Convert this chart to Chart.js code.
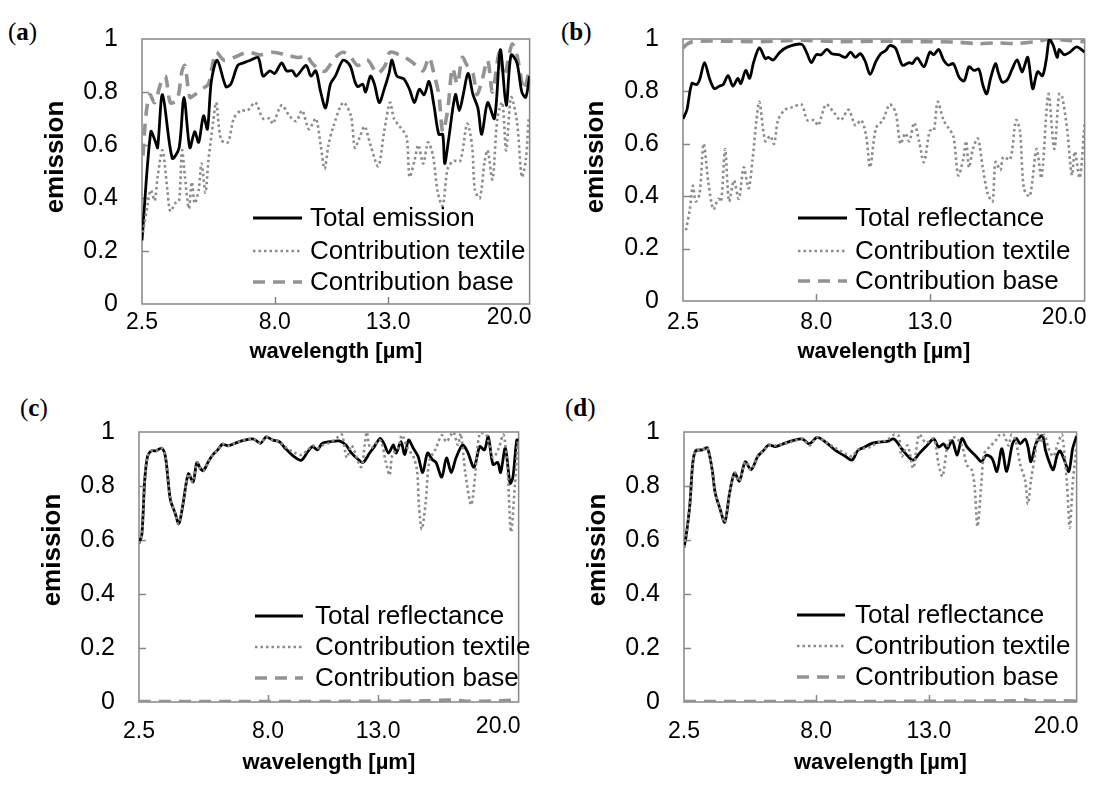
<!DOCTYPE html>
<html>
<head>
<meta charset="utf-8">
<title>emission / reflectance spectra</title>
<script src="https://cdn.jsdelivr.net/npm/chart.js@4.4.1/dist/chart.umd.min.js"></script>
<style>
  html, body { margin: 0; padding: 0; background: #fff; }
  body { width: 1115px; height: 787px; position: relative; overflow: hidden; }
  .panel { position: absolute; }
  .panel canvas { display: block; }
  .tag { position: absolute; font-family: "Liberation Serif", "DejaVu Serif", serif; font-size: 25px; line-height: 1; color: #000; }
</style>
</head>
<body>
<div class="tag" style="left:8px;top:19px">(<b>a</b>)</div>
<div class="tag" style="left:561px;top:19px">(<b>b</b>)</div>
<div class="tag" style="left:20px;top:395px">(<b>c</b>)</div>
<div class="tag" style="left:565px;top:395px">(<b>d</b>)</div>
<div class="panel" style="left:0px;top:0px"><canvas id="chartA" width="557" height="393"></canvas></div>
<div class="panel" style="left:557px;top:0px"><canvas id="chartB" width="558" height="393"></canvas></div>
<div class="panel" style="left:0px;top:393px"><canvas id="chartC" width="557" height="394"></canvas></div>
<div class="panel" style="left:557px;top:393px"><canvas id="chartD" width="558" height="394"></canvas></div>
<script>
const FONT = '"Liberation Sans", Arial, sans-serif';

// axis labels
const yTickLabels = ['0', '0.2', '0.4', '0.6', '0.8', '1'];
const xTickLabels = ['2.5', '8.0', '13.0', '20.0'];
const xTickPos = [0, 136, 252]; // sample index of 2.5, 8.0, 13.0 (20.0 = last sample of each panel)
const labelsA = ['Total emission', 'Contribution textile', 'Contribution base'];
const labelsR = ['Total reflectance', 'Contribution textile', 'Contribution base'];

// (a) emission
const xTotA = [0,9,14,16,21,31,38,43,49,54,58,63,67,71,77,86,91,98,104,111,119,124,131,136,143,148,154,158,168,173,178,183,188,193,198,206,213,218,221,226,229,234,238,243,248,253,256,261,268,274,279,284,289,294,299,304,308,310,314,321,325,329,334,339,344,348,354,361,367,373,378,384,389,393,397];
const totA = [0.24,0.65,0.61,0.59,0.79,0.55,0.59,0.78,0.59,0.65,0.61,0.71,0.66,0.84,0.92,0.82,0.83,0.90,0.91,0.92,0.93,0.86,0.88,0.87,0.91,0.88,0.88,0.86,0.90,0.86,0.88,0.80,0.74,0.83,0.86,0.92,0.90,0.84,0.82,0.83,0.80,0.86,0.83,0.76,0.81,0.87,0.92,0.86,0.85,0.81,0.76,0.81,0.79,0.84,0.75,0.64,0.64,0.53,0.62,0.79,0.73,0.79,0.87,0.79,0.74,0.64,0.76,0.70,0.96,0.75,0.94,0.91,0.80,0.78,0.86];
const xTexA = [1,6,9,13,16,21,26,29,34,38,41,44,48,51,54,58,61,65,68,73,76,81,88,94,101,108,116,124,131,134,143,151,158,164,171,178,183,187,191,196,206,214,218,223,228,234,242,248,254,258,264,271,274,279,283,288,293,298,303,308,313,319,326,333,338,341,346,351,354,359,364,369,373,378,384,389,393,396];
const texA = [0.27,0.38,0.43,0.39,0.48,0.58,0.43,0.35,0.38,0.39,0.58,0.48,0.36,0.46,0.38,0.43,0.53,0.42,0.54,0.69,0.76,0.62,0.61,0.70,0.73,0.73,0.76,0.70,0.70,0.68,0.75,0.71,0.69,0.73,0.66,0.70,0.60,0.51,0.60,0.67,0.76,0.71,0.59,0.63,0.67,0.60,0.52,0.65,0.76,0.70,0.67,0.63,0.48,0.54,0.60,0.53,0.61,0.56,0.42,0.37,0.51,0.54,0.54,0.68,0.60,0.43,0.40,0.54,0.58,0.47,0.70,0.76,0.58,0.78,0.69,0.48,0.54,0.70];
const xBaseA = [1,4,8,13,19,24,29,36,41,44,49,54,61,68,71,76,84,94,108,121,134,148,161,168,174,183,188,198,206,214,221,231,241,249,254,264,274,281,288,294,299,304,308,313,318,323,328,333,339,343,348,354,359,366,371,379,384,391,396];
const baseA = [0.56,0.71,0.79,0.76,0.83,0.86,0.76,0.77,0.88,0.90,0.78,0.79,0.81,0.83,0.88,0.95,0.92,0.93,0.95,0.94,0.95,0.94,0.93,0.94,0.91,0.88,0.88,0.93,0.95,0.93,0.90,0.92,0.87,0.90,0.95,0.94,0.92,0.90,0.88,0.93,0.87,0.79,0.65,0.73,0.89,0.83,0.93,0.90,0.87,0.79,0.84,0.92,0.80,0.95,0.86,0.98,0.94,0.81,0.87];

// (b)
const xTotB = [0,4,9,14,17,22,27,32,37,41,46,51,56,59,64,68,72,78,84,87,92,99,107,121,126,131,136,141,147,152,159,166,171,176,181,186,191,197,202,207,211,217,224,231,234,239,246,252,256,261,266,271,276,282,287,292,297,302,306,310,314,319,322,326,331,336,341,346,348,352,357,362,367,371,374,378,382,384,389,395,402,410];
const totB = [0.695,0.73,0.83,0.826,0.845,0.91,0.85,0.81,0.82,0.826,0.86,0.82,0.85,0.83,0.88,0.85,0.91,0.966,0.925,0.93,0.92,0.95,0.97,0.98,0.95,0.91,0.94,0.94,0.96,0.944,0.94,0.93,0.95,0.93,0.944,0.915,0.865,0.915,0.944,0.956,0.975,0.965,0.90,0.91,0.906,0.928,0.894,0.95,0.94,0.96,0.92,0.90,0.906,0.853,0.84,0.894,0.88,0.885,0.826,0.79,0.85,0.906,0.87,0.835,0.844,0.885,0.92,0.875,0.89,0.93,0.81,0.875,0.86,0.925,1.0,0.975,0.93,0.96,0.94,0.95,0.97,0.95];
const xTexB = [3,7,10,13,17,21,26,31,36,39,43,47,52,57,62,67,71,75,78,84,89,93,97,104,112,121,127,134,138,146,154,161,169,176,182,187,191,197,204,211,217,222,227,231,236,241,246,252,256,260,266,271,276,281,286,289,292,296,301,306,311,316,319,324,327,334,340,344,348,354,361,366,373,379,384,387,392,397,400,405,410];
const texB = [0.27,0.35,0.44,0.38,0.41,0.60,0.45,0.35,0.39,0.38,0.58,0.38,0.46,0.39,0.51,0.43,0.54,0.69,0.76,0.61,0.63,0.60,0.69,0.73,0.74,0.75,0.69,0.69,0.67,0.75,0.72,0.69,0.73,0.67,0.69,0.63,0.51,0.66,0.69,0.75,0.72,0.60,0.64,0.61,0.68,0.61,0.53,0.65,0.65,0.76,0.69,0.66,0.63,0.48,0.54,0.61,0.51,0.58,0.62,0.51,0.41,0.38,0.53,0.50,0.55,0.54,0.69,0.65,0.43,0.40,0.58,0.47,0.79,0.58,0.79,0.78,0.66,0.48,0.57,0.47,0.68];
const xBaseB = [0,4,10,40,80,120,160,200,240,280,300,320,340,360,376,390,410];
const baseB = [0.965,0.98,0.99,0.992,0.99,0.995,0.99,0.992,0.99,0.988,0.982,0.985,0.983,0.99,1.0,0.995,0.99];

// (c)
const xTotC = [0,3,6,9,13,18,24,28,33,38,42,46,52,57,61,65,68,73,78,83,88,94,101,111,121,128,134,141,148,154,163,171,178,183,188,193,201,211,218,224,231,236,243,248,254,258,263,268,271,276,280,284,289,294,299,304,309,313,319,324,329,334,341,346,353,359,364,368,373,378,381,386,391,394,398,400];
const totC = [0.588,0.62,0.82,0.91,0.93,0.93,0.94,0.905,0.75,0.70,0.66,0.725,0.845,0.815,0.887,0.863,0.857,0.89,0.916,0.934,0.955,0.949,0.958,0.97,0.974,0.958,0.982,0.97,0.964,0.94,0.91,0.895,0.928,0.946,0.934,0.958,0.964,0.967,0.952,0.922,0.898,0.887,0.922,0.946,0.976,0.958,0.922,0.952,0.922,0.964,0.916,0.97,0.94,0.91,0.85,0.922,0.898,0.887,0.833,0.904,0.85,0.904,0.952,0.928,0.869,0.946,0.934,0.982,0.88,0.887,0.85,0.94,0.81,0.833,0.97,0.97];
const xTexC = [0,3,6,9,13,18,24,28,33,38,42,46,52,57,61,65,68,73,78,83,88,94,101,111,121,128,134,141,148,154,163,171,178,183,188,193,201,211,214,219,224,234,238,240,244,254,260,264,267,273,277,283,289,293,295,298,302,306,313,319,324,331,336,339,344,350,354,359,366,373,379,384,388,392,396,399];
const texC = [0.588,0.62,0.82,0.91,0.93,0.93,0.94,0.905,0.75,0.70,0.66,0.725,0.845,0.815,0.887,0.863,0.857,0.89,0.916,0.934,0.955,0.949,0.958,0.97,0.974,0.958,0.982,0.97,0.964,0.945,0.925,0.915,0.935,0.95,0.94,0.95,0.96,0.985,0.99,0.905,0.95,0.87,0.958,1.0,0.94,0.97,0.89,0.84,0.916,0.94,0.988,0.94,0.91,0.857,0.725,0.64,0.737,0.893,0.94,0.988,0.964,1.0,0.952,0.994,0.845,0.73,0.833,0.994,0.988,0.905,0.94,0.99,0.88,0.63,0.80,0.964];
const xBaseC = [0,100,200,280,300,330,345,380,392,396,400];
const baseC = [0.002,0.002,0.002,0.003,0.004,0.007,0.003,0.004,0.006,0.009,0.003];

// (d)
const xTotD = [0,2,6,9,12,19,24,29,32,37,42,47,52,57,63,69,76,82,87,94,102,112,122,129,137,146,156,166,173,179,186,192,199,209,216,224,231,236,242,249,257,262,267,271,276,281,286,291,296,301,306,311,317,322,327,332,338,342,346,351,354,357,362,366,369,372,377,380,384,387,392,396,400,404];
const totD = [0.573,0.61,0.73,0.884,0.93,0.934,0.941,0.86,0.776,0.716,0.666,0.776,0.848,0.818,0.89,0.86,0.91,0.932,0.952,0.946,0.956,0.968,0.974,0.956,0.98,0.962,0.932,0.91,0.896,0.932,0.944,0.956,0.962,0.965,0.974,0.938,0.908,0.896,0.92,0.946,0.974,0.944,0.956,0.938,0.968,0.914,0.976,0.946,0.926,0.908,0.89,0.914,0.902,0.854,0.938,0.854,0.956,0.976,0.956,0.974,0.944,0.89,0.956,0.98,0.986,0.932,0.878,0.86,0.915,0.93,0.89,0.854,0.94,0.985];
const xTexD = [0,2,6,9,12,19,24,29,32,37,42,47,52,57,63,69,76,82,87,94,102,112,122,129,137,146,156,166,173,179,186,192,199,209,216,221,224,230,236,242,249,257,262,266,272,279,286,291,296,299,302,306,309,316,321,325,329,334,337,341,346,351,354,357,361,364,367,371,375,380,385,389,394,397,400,404];
const texD = [0.573,0.61,0.73,0.884,0.93,0.934,0.941,0.86,0.776,0.716,0.666,0.776,0.848,0.818,0.89,0.86,0.91,0.93,0.95,0.95,0.956,0.965,0.975,0.95,0.98,0.962,0.94,0.92,0.91,0.935,0.94,0.945,0.96,0.97,0.99,0.985,0.91,0.95,0.866,0.99,0.96,0.975,0.88,0.836,0.96,0.98,0.95,0.878,0.86,0.80,0.65,0.81,0.92,0.95,0.97,0.99,0.99,0.95,0.99,0.97,0.88,0.82,0.734,0.82,0.91,0.99,0.96,0.99,0.94,0.91,0.96,0.99,0.81,0.645,0.81,0.95];
const xBaseD = [0,100,200,300,340,350,356,365,390,404];
const baseD = [0.002,0.002,0.002,0.003,0.004,0.008,0.004,0.003,0.004,0.003];

function pts(xs, ys) {
  return xs.map((x, i) => ({ x: x, y: ys[i] }));
}

// plot frame + short inward tick marks (Excel style)
const framePlugin = {
  id: 'frame',
  beforeDatasetsDraw(chart) {
    const { ctx, chartArea: a, scales } = chart;
    ctx.save();
    ctx.strokeStyle = '#878787';
    ctx.lineWidth = 1.5;
    ctx.strokeRect(a.left, a.top, a.right - a.left, a.bottom - a.top);
    ctx.beginPath();
    scales.y.ticks.forEach(t => {
      if (t.value > 0.01 && t.value < 0.99) {
        const py = Math.round(scales.y.getPixelForValue(t.value)) + 0.5;
        ctx.moveTo(a.left, py); ctx.lineTo(a.left + 7, py);
      }
    });
    scales.x.ticks.forEach(t => {
      if (t.value > scales.x.min && t.value < scales.x.max) {
        const px = Math.round(scales.x.getPixelForValue(t.value)) + 0.5;
        ctx.moveTo(px, a.bottom); ctx.lineTo(px, a.bottom - 7);
      }
    });
    ctx.stroke();
    ctx.restore();
  }
};

// the last x label ("20.0") ends at the frame and sits a little higher, as in the original
const lastLabelPlugin = {
  id: 'lastLabel',
  beforeDraw(chart) {
    const s = chart.scales.x;
    if (!s.getLabelItems) return;
    const items = s.getLabelItems();
    if (!items || !items.length) return;
    const o = items[items.length - 1].options;
    o.textAlign = 'right';
    o.translation = [o.translation[0] + 2, o.translation[1] - 5];
  }
};

function legendPlugin(lg) {
  return {
    id: 'insideLegend',
    afterDatasetsDraw(chart) {
      const { ctx, chartArea: a } = chart;
      ctx.save();
      ctx.font = '26px ' + FONT;
      ctx.textBaseline = 'middle';
      ctx.textAlign = 'left';
      chart.data.datasets.forEach((ds, i) => {
        const y = a.top + lg.rows[i];
        ctx.beginPath();
        ctx.strokeStyle = ds.borderColor;
        ctx.lineWidth = ds.borderWidth;
        ctx.setLineDash(ds.borderDash || []);
        ctx.moveTo(a.left + lg.x0, y);
        ctx.lineTo(a.left + lg.x1, y);
        ctx.stroke();
        ctx.setLineDash([]);
        ctx.fillStyle = '#000';
        ctx.fillText(ds.label, a.left + lg.tx, y + 1);
      });
      ctx.restore();
    }
  };
}

// vertical axis title, placed like the original (a bit above the plot centre)
function yTitlePlugin(t) {
  return {
    id: 'yTitle',
    afterDraw(chart) {
      const ctx = chart.ctx;
      ctx.save();
      ctx.translate(t.x, t.y);
      ctx.rotate(-Math.PI / 2);
      ctx.font = 'bold 26px ' + FONT;
      ctx.textAlign = 'center';
      ctx.textBaseline = 'middle';
      ctx.fillStyle = '#000';
      ctx.fillText('emission', 0, 0);
      ctx.restore();
    }
  };
}

function makePanel(id, p) {
  const cv = document.getElementById(id);
  const W = cv.width, H = cv.height;
  const yw = p.plot[0], xh = H - p.plot[3];
  new Chart(cv, {
    type: 'line',
    data: {
      datasets: [
        { label: p.labels[0], data: pts(p.xTot, p.tot), borderColor: '#000000', borderWidth: 2.8, order: 2 },
        { label: p.labels[1], data: pts(p.xTex, p.tex), borderColor: '#8a8a8a', borderWidth: 2.6, borderDash: [2.5, 3], order: 1 },
        { label: p.labels[2], data: pts(p.xBase, p.base), borderColor: '#939393', borderWidth: 3.6, borderDash: [12, 8], order: 3 }
      ]
    },
    options: {
      responsive: false,
      animation: false,
      devicePixelRatio: 1,
      layout: { padding: { top: p.plot[1], right: W - p.plot[2], left: 0, bottom: 0 } },
      elements: { point: { radius: 0 }, line: { tension: 0.3, fill: false } },
      plugins: { legend: { display: false }, tooltip: { enabled: false } },
      scales: {
        x: {
          type: 'linear', min: 0, max: p.xMax,
          grid: { display: false, drawTicks: false },
          border: { display: false },
          afterBuildTicks: s => { s.ticks = xTickPos.concat([p.xMax]).map(v => ({ value: v })); },
          afterFit: s => { s.height = xh; },
          ticks: { autoSkip: false, maxRotation: 0, padding: p.xTickPad, color: '#000',
                   font: { family: FONT, size: 23 }, callback: (v, i) => xTickLabels[i] },
          title: { display: true, text: 'wavelength [µm]', color: '#000',
                   font: { family: FONT, size: 22, weight: 'bold' }, padding: { top: 0, bottom: p.xTitlePad } }
        },
        y: {
          min: 0, max: 1,
          grid: { display: false, drawTicks: false },
          border: { display: false },
          afterFit: s => { s.width = yw; },
          ticks: { stepSize: 0.2, padding: 24, color: '#000',
                   font: { family: FONT, size: 25 }, callback: (v, i) => yTickLabels[i] },
          title: { display: false }
        }
      }
    },
    plugins: [framePlugin, lastLabelPlugin, legendPlugin(p.legend), yTitlePlugin(p.yTitle)]
  });
}

// plot boxes are canvas-relative [left, top, right, bottom]
makePanel('chartA', {
  plot: [142, 33, 539, 304], xMax: 397, labels: labelsA,
  xTot: xTotA, tot: totA, xTex: xTexA, tex: texA, xBase: xBaseA, base: baseA,
  xTickPad: 5, xTitlePad: 28, yTitle: { x: 56, y: 157 },
  legend: { x0: 111, x1: 160, tx: 168, rows: [179, 212, 243] }
});
makePanel('chartB', {
  plot: [126, 33, 536, 301], xMax: 410, labels: labelsR,
  xTot: xTotB, tot: totB, xTex: xTexB, tex: texB, xBase: xBaseB, base: baseB,
  xTickPad: 8, xTitlePad: 28, yTitle: { x: 39, y: 157 },
  legend: { x0: 115, x1: 164, tx: 172, rows: [179, 212, 242] }
});
makePanel('chartC', {
  plot: [139, 30, 539, 309], xMax: 400, labels: labelsR,
  xTot: xTotC, tot: totC, xTex: xTexC, tex: texC, xBase: xBaseC, base: baseC,
  xTickPad: 16, xTitlePad: 11, yTitle: { x: 53, y: 157 },
  legend: { x0: 116, x1: 164, tx: 176, rows: [184, 215, 246] }
});
makePanel('chartD', {
  plot: [127, 31, 531, 309], xMax: 404, labels: labelsR,
  xTot: xTotD, tot: totD, xTex: xTexD, tex: texD, xBase: xBaseD, base: baseD,
  xTickPad: 16, xTitlePad: 11, yTitle: { x: 41, y: 157 },
  legend: { x0: 113, x1: 161, tx: 171, rows: [183, 214, 245] }
});
</script>
</body>
</html>
